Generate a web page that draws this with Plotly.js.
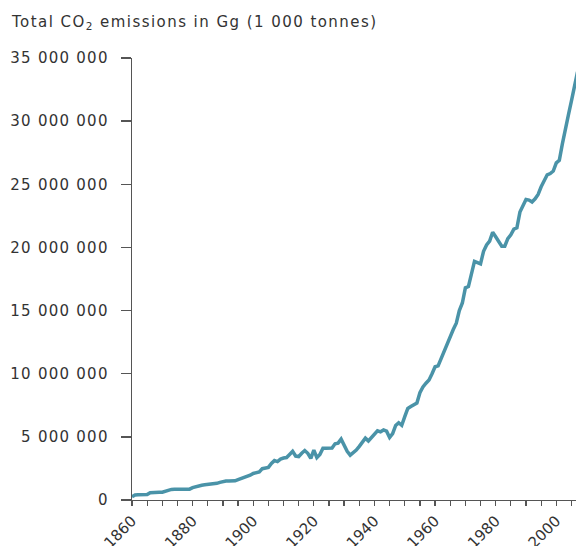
<!DOCTYPE html>
<html>
<head>
<meta charset="utf-8">
<script src="https://cdn.plot.ly/plotly-3.0.1.min.js"></script>
<style>
html,body{margin:0;padding:0;background:#fff;}
#chart{width:576px;height:546px;}
#chart .ytick text{letter-spacing:1.25px;}
#chart .gtitle{letter-spacing:1.45px;}
</style>
</head>
<body>
<div id="chart"></div>
<script>
const years = [];
for (let y = 1860; y <= 2007; y++) years.push(y);

// Total CO2 emissions, Gg
const emissions = [
  260000, 400000, 420000, 420000, 420000, 430000, 580000, 610000, 610000, 610000, // 1860-1869
  620000, 700000, 790000, 840000, 850000, 850000, 850000, 850000, 850000, 860000, // 1870-1879
  980000, 1060000, 1100000, 1170000, 1200000, 1220000, 1240000, 1270000, 1320000, 1400000, // 1880-1889
  1480000, 1500000, 1500000, 1500000, 1520000, 1620000, 1700000, 1760000, 1850000, 1960000, // 1890-1899
  2100000, 2160000, 2220000, 2480000, 2520000, 2580000, 2900000, 3120000, 3040000, 3240000, // 1900-1909
  3320000, 3360000, 3600000, 3850000, 3480000, 3440000, 3700000, 3920000, 3700000, 3300000, // 1910-1919
  3950000, 3350000, 3600000, 4100000, 4100000, 4100000, 4120000, 4450000, 4500000, 4820000, // 1920-1929
  4300000, 3850000, 3550000, 3750000, 3950000, 4250000, 4600000, 4900000, 4680000, 4950000, // 1930-1939
  5250000, 5480000, 5400000, 5550000, 5450000, 4950000, 5250000, 5900000, 6120000, 5920000, // 1940-1949
  6600000, 7250000, 7400000, 7550000, 7680000, 8500000, 8950000, 9250000, 9500000, 10000000, // 1950-1959
  10550000, 10620000, 11200000, 11850000, 12500000, 12950000, 13500000, 14000000, 15000000, 15600000, // 1960-1969
  16800000, 16900000, 17900000, 18900000, 18800000, 18700000, 19700000, 20200000, 20500000, 21200000, // 1970-1979
  20850000, 20450000, 20100000, 20100000, 20700000, 21000000, 21450000, 21550000, 22800000, 23300000, // 1980-1989
  23800000, 23750000, 23600000, 23850000, 24200000, 24800000, 25300000, 25750000, 25850000, 26050000, // 1990-1999
  26700000, 26900000, 28200000, 29500000, 30500000, 31600000, 32800000, 33900000 // 2000-2007
];

const yTickVals = [0, 5000000, 10000000, 15000000, 20000000, 25000000, 30000000, 35000000];
const yTickText = ['0', '5\u00a0000\u00a0000', '10\u00a0000\u00a0000', '15\u00a0000\u00a0000', '20\u00a0000\u00a0000',
                   '25\u00a0000\u00a0000', '30\u00a0000\u00a0000', '35\u00a0000\u00a0000'];
const xTickVals = [1860, 1880, 1900, 1920, 1940, 1960, 1980, 2000];
const xTickText = ['1860', '1880', '1900', '1920', '1940', '1960', '1980', '2000'];
const titleText = 'Total CO<sub>2</sub> emissions in Gg (1\u00a0000 tonnes)';

const FONT = 'DejaVu Sans, Verdana, sans-serif';
const TXT = '#333333';
const AX = '#555555';

const trace = {
  x: years, y: emissions, type: 'scatter', mode: 'lines',
  line: {color: '#4a93a8', width: 3.5},
  hoverinfo: 'skip'
};

const layout = {
  width: 576, height: 546,
  margin: {l: 132, r: 0, t: 58, b: 46, pad: 0},
  paper_bgcolor: '#ffffff', plot_bgcolor: '#ffffff',
  font: {family: FONT, size: 15, color: TXT},
  showlegend: false,
  title: {
    text: titleText, font: {family: FONT, size: 15, color: TXT},
    xref: 'container', yref: 'container', x: 12/576, xanchor: 'left',
    y: 1 - 22/546, yanchor: 'middle'
  },
  xaxis: {
    range: [1860, 2006.5], showgrid: false, zeroline: false,
    showline: true, linecolor: AX, linewidth: 1.3,
    tickmode: 'array', tickvals: xTickVals, ticktext: xTickText,
    ticks: 'outside', ticklen: 5, tickwidth: 1.3, tickcolor: AX, tickangle: -45,
    tickfont: {family: FONT, size: 15, color: TXT},
    minor: {dtick: 5, tick0: 1860, ticks: 'outside', ticklen: 5, tickwidth: 1.3, tickcolor: AX, showgrid: false}
  },
  yaxis: {
    range: [0, 35000000], showgrid: false, zeroline: false,
    showline: true, linecolor: AX, linewidth: 1.3,
    tickmode: 'array', tickvals: yTickVals, ticktext: yTickText,
    ticks: 'outside', ticklen: 10, tickwidth: 1.3, tickcolor: AX,
    ticklabelstandoff: 9,
    tickfont: {family: FONT, size: 15, color: TXT}
  }
};

Plotly.newPlot('chart', [trace], layout, {displayModeBar: false, staticPlot: true});
</script>
</body>
</html>
